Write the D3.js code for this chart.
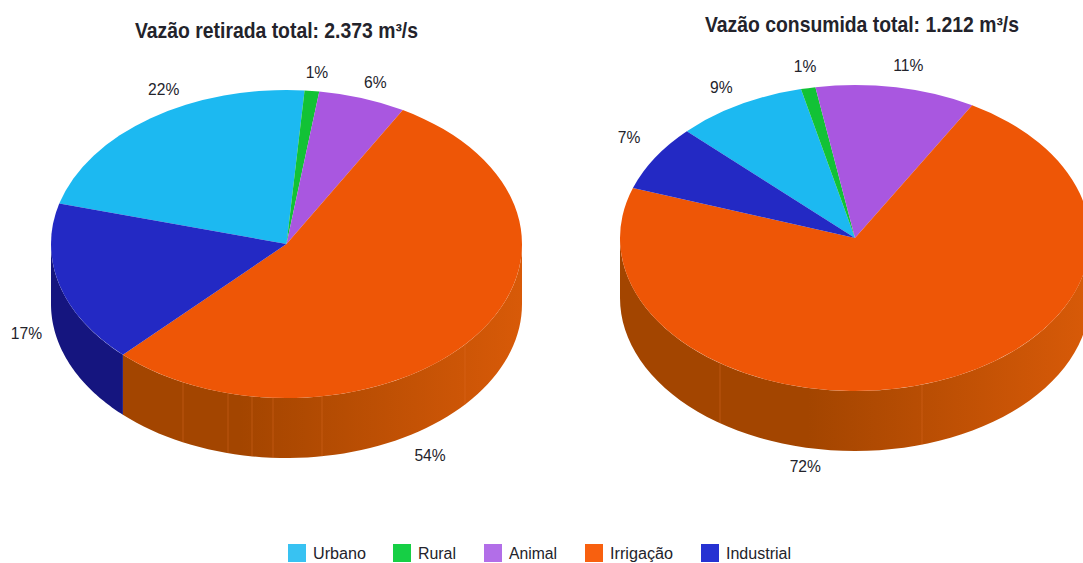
<!DOCTYPE html>
<html>
<head>
<meta charset="utf-8">
<script src="https://cdn.jsdelivr.net/npm/d3@7/dist/d3.min.js"></script>
<style>
  html, body { margin: 0; padding: 0; background: #fff; overflow: hidden; }
  svg { display: block; }
  text { font-family: "Liberation Sans", Arial, sans-serif; fill: #23232b; }
</style>
</head>
<body>
<svg id="chart" width="1083" height="563"></svg>
<script>
// Water use by sector, in percent of each total
const sectors = ["Urbano", "Rural", "Animal", "Irrigação", "Industrial"];
const withdrawalShare = [22, 1, 6, 54, 17];
const consumptionShare = [9, 1, 11, 72, 7];
const withdrawalTitle = "Vazão retirada total: 2.373 m³/s";
const consumptionTitle = "Vazão consumida total: 1.212 m³/s";

// Sector colours: top face, wall (dark end), wall (light end), legend swatch
const topColors = ["#1cb9f1", "#12c236", "#a957e0", "#ee5606", "#2329c4"];
const wallDark = ["#1284ad", "#0d8a26", "#783ea0", "#a34500", "#15157f"];
const wallLight = ["#1698c6", "#0f9e2c", "#8a47b8", "#d85a08", "#1c1c9e"];
const legendColors = ["#38c2f2", "#16cf45", "#b26ee8", "#f8600f", "#2632d2"];

// Layout of the two discs and the nudges that place each percent label off the rim
const charts = [
  {
    values: withdrawalShare, title: withdrawalTitle,
    titleX: 135, titleY: 38, titleW: 283,
    cx: 286.5, cy: 244, rx: 235.5, ry: 154, depth: 60, firstAngle: 285.2,
    nudges: [[13, -29], [5, -19], [13, -16], [-45, 119], [-33, 48]],
    seams: [183, 228, 252, 273, 322, 465]
  },
  {
    values: consumptionShare, title: consumptionTitle,
    titleX: 705, titleY: 32, titleW: 314,
    cx: 855, cy: 238, rx: 235, ry: 153, depth: 60, firstAngle: 314.3,
    nudges: [[-18, -18], [-3, -22], [12, -22], [-132, 85], [-26, -21]],
    seams: [720, 922]
  }
];

const legendX = [288, 393, 484, 585, 701];
const legendTextW = [53, 38, 48, 63, 65];

const svg = d3.select("#chart");
const defs = svg.append("defs");
const TAU = Math.PI * 2;

charts.forEach((c, ci) => {
  const arcs = d3.pie().sort(null)
    .startAngle(c.firstAngle * Math.PI / 180)
    .endAngle(c.firstAngle * Math.PI / 180 + TAU)(c.values);

  const g = svg.append("g");
  const rim = a => [c.cx + c.rx * Math.sin(a), c.cy - c.ry * Math.cos(a)];

  // Walls: only the part of each slice facing the viewer (90° to 270°)
  const frontArcs = [];
  arcs.forEach((d, i) => {
    for (const turn of [0, TAU]) {
      const a0 = Math.max(d.startAngle, Math.PI / 2 + turn);
      const a1 = Math.min(d.endAngle, Math.PI * 1.5 + turn);
      if (a1 > a0) frontArcs.push({ i, a0, a1 });
    }
  });

  const line = d3.line();
  frontArcs.forEach((w, k) => {
    const id = `wall-${ci}-${k}`;
    const grad = defs.append("linearGradient").attr("id", id)
      .attr("gradientUnits", "userSpaceOnUse")
      .attr("x1", c.cx + c.rx).attr("y1", 0)
      .attr("x2", c.cx - c.rx).attr("y2", 0);
    grad.append("stop").attr("offset", 0).attr("stop-color", wallLight[w.i]);
    grad.append("stop").attr("offset", 0.6).attr("stop-color", wallDark[w.i]);
    grad.append("stop").attr("offset", 1).attr("stop-color", wallDark[w.i]);
    const steps = d3.range(0, 61).map(s => w.a0 + (w.a1 - w.a0) * s / 60);
    const upper = steps.map(rim);
    const lower = steps.slice().reverse().map(a => {
      const p = rim(a);
      return [p[0], p[1] + c.depth];
    });
    g.append("path")
      .attr("d", line(upper.concat(lower)) + "Z")
      .attr("fill", `url(#${id})`);
  });

  // Faint vertical joints between the wall's facets
  c.seams.forEach(x => {
    const a = Math.PI - Math.asin((x - c.cx) / c.rx);
    const p = rim(a);
    g.append("line")
      .attr("x1", x).attr("x2", x)
      .attr("y1", p[1]).attr("y2", p[1] + c.depth)
      .attr("stroke", "#e0712a").attr("stroke-opacity", 0.4).attr("stroke-width", 1);
  });

  // Top face: circular arcs squashed to an ellipse
  const arcGen = d3.arc().innerRadius(0).outerRadius(c.rx);
  g.append("g")
    .attr("transform", `translate(${c.cx},${c.cy}) scale(1,${c.ry / c.rx})`)
    .selectAll("path").data(arcs).join("path")
    .attr("d", arcGen)
    .attr("fill", (d, i) => topColors[i]);

  // Percent labels
  g.selectAll("text.pct").data(arcs).join("text")
    .attr("class", "pct")
    .attr("text-anchor", "middle")
    .attr("font-size", 17)
    .attr("transform", (d, i) => {
      const p = rim((d.startAngle + d.endAngle) / 2);
      return `translate(${p[0] + c.nudges[i][0]},${p[1] + c.nudges[i][1] + 6}) scale(0.92,1)`;
    })
    .text(d => d.value + "%");

  // Title
  g.append("text")
    .attr("x", c.titleX).attr("y", c.titleY)
    .attr("font-size", 21.5).attr("font-weight", "bold")
    .attr("textLength", c.titleW).attr("lengthAdjust", "spacingAndGlyphs")
    .text(c.title);
});

// Legend along the bottom edge, with the descenders kept inside the page
const legend = svg.append("g").selectAll("g").data(sectors).join("g");
legend.append("rect")
  .attr("x", (d, i) => legendX[i]).attr("y", 544)
  .attr("width", 18).attr("height", 18)
  .attr("fill", (d, i) => legendColors[i]);
legend.append("text")
  .attr("x", (d, i) => legendX[i] + 25).attr("y", 559.4)
  .attr("font-size", 16)
  .attr("textLength", (d, i) => legendTextW[i]).attr("lengthAdjust", "spacingAndGlyphs")
  .text(d => d);
</script>
</body>
</html>
